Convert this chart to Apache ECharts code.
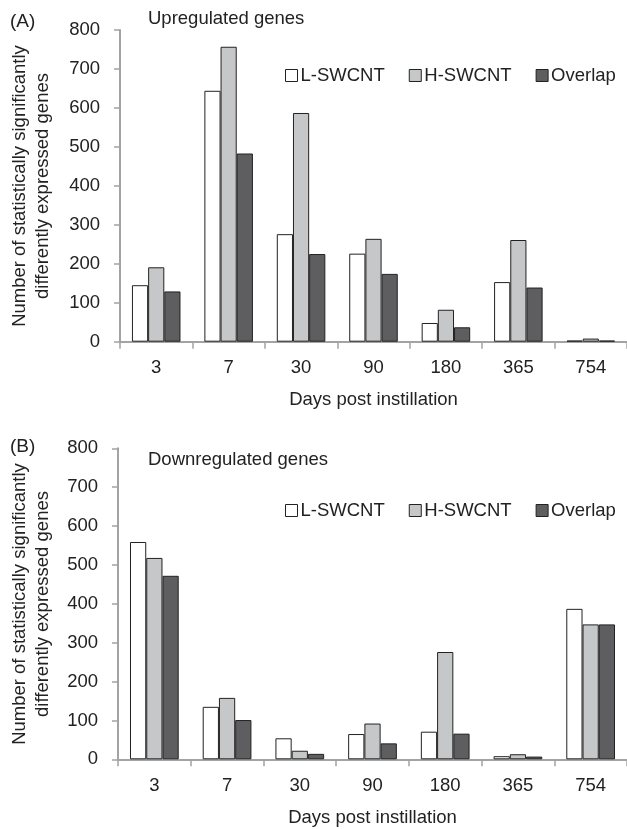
<!DOCTYPE html>
<html>
<head>
<meta charset="utf-8">
<script src="https://cdn.jsdelivr.net/npm/echarts@6/dist/echarts.min.js"></script>
<style>
html,body{margin:0;padding:0;background:#fff;}
#chart{width:627px;height:829px;}
</style>
</head>
<body>
<div id="chart"></div>
<script>
var categories = ['3', '7', '30', '90', '180', '365', '754'];
var seriesNames = ['L-SWCNT', 'H-SWCNT', 'Overlap'];
var upL = [145, 644, 276, 226, 48, 153, 3];
var upH = [191, 757, 587, 264, 82, 261, 8];
var upO = [129, 483, 225, 174, 37, 139, 3];
var downL = [559, 135, 54, 65, 71, 8, 387];
var downH = [518, 158, 22, 92, 276, 13, 347];
var downO = [472, 101, 14, 41, 66, 7, 347];
var yTicks = { min: 0, max: 800, interval: 100 };
var xTitle = 'Days post instillation';
var yTitle = 'Number of statistically significantly\ndifferently expressed genes';
var panelTitles = ['Upregulated genes', 'Downregulated genes'];
var panelTags = ['(A)', '(B)'];

var FONT = '"Liberation Sans", Arial, Helvetica, sans-serif';
var FS = 18.5;
var colors = ['#ffffff', '#c6c7c9', '#5e5e60'];
var grids = [
  { left: 120, right: -4, top: 30, height: 311.7 },
  { left: 118, right: -2, top: 448.3, height: 311 }
];

function xAxis(i) {
  return {
    type: 'category', gridIndex: i, data: categories,
    axisLine: { lineStyle: { color: '#a3a3a3', width: 2 } },
    axisTick: { show: true, length: 7, lineStyle: { color: '#a3a3a3', width: 1.5 } },
    axisLabel: { color: '#222', fontSize: FS, fontFamily: FONT, margin: 17 },
    name: xTitle, nameLocation: 'middle', nameGap: 49,
    nameTextStyle: { color: '#222', fontSize: FS, fontFamily: FONT }
  };
}
function yAxis(i) {
  return {
    type: 'value', gridIndex: i, min: yTicks.min, max: yTicks.max, interval: yTicks.interval,
    axisLine: { show: true, lineStyle: { color: '#a3a3a3', width: 2 } },
    axisTick: { show: true, length: 6, lineStyle: { color: '#a3a3a3', width: 1.5 } },
    splitLine: { show: false },
    axisLabel: { color: '#222', fontSize: FS, fontFamily: FONT, margin: 20 }
  };
}
function bar(name, data, i, c) {
  return {
    type: 'bar', name: name, data: data, xAxisIndex: i, yAxisIndex: i,
    barGap: '0%', barCategoryGap: '33%',
    itemStyle: { color: colors[c], borderColor: '#222', borderWidth: 1 },
    emphasis: { disabled: true }
  };
}
function legend(top, left) {
  return {
    top: top, left: left, itemWidth: 12, itemHeight: 12, itemGap: 24,
    icon: 'rect', data: seriesNames,
    textStyle: { color: '#222', fontSize: FS, fontFamily: FONT, padding: [0, 0, 0, -2] },
    itemStyle: { borderColor: '#222', borderWidth: 1 }
  };
}

var chart = echarts.init(document.getElementById('chart'), null, { renderer: 'canvas' });
chart.setOption({
  animation: false,
  backgroundColor: '#fff',
  grid: grids,
  xAxis: [xAxis(0), xAxis(1)],
  yAxis: [yAxis(0), yAxis(1)],
  legend: [legend(61, 280), legend(496, 280)],
  title: [
    { text: panelTitles[0], left: 143, top: 4, textStyle: { color: '#222', fontSize: FS, fontWeight: 'normal', fontFamily: FONT } },
    { text: panelTitles[1], left: 143, top: 445, textStyle: { color: '#222', fontSize: FS, fontWeight: 'normal', fontFamily: FONT } },
    { text: panelTags[0], left: 5, top: 7, textStyle: { color: '#222', fontSize: 19, fontWeight: 'normal', fontFamily: FONT } },
    { text: panelTags[1], left: 5, top: 432, textStyle: { color: '#222', fontSize: 19, fontWeight: 'normal', fontFamily: FONT } }
  ],
  graphic: [
    { type: 'text', x: 31.5, y: 186, rotation: Math.PI / 2,
      style: { text: yTitle, fill: '#222', font: FS + 'px ' + FONT, textAlign: 'center', textVerticalAlign: 'middle', lineHeight: 23 } },
    { type: 'text', x: 31.5, y: 604, rotation: Math.PI / 2,
      style: { text: yTitle, fill: '#222', font: FS + 'px ' + FONT, textAlign: 'center', textVerticalAlign: 'middle', lineHeight: 23 } }
  ],
  series: [
    bar(seriesNames[0], upL, 0, 0), bar(seriesNames[1], upH, 0, 1), bar(seriesNames[2], upO, 0, 2),
    bar(seriesNames[0], downL, 1, 0), bar(seriesNames[1], downH, 1, 1), bar(seriesNames[2], downO, 1, 2)
  ]
});
</script>
</body>
</html>
